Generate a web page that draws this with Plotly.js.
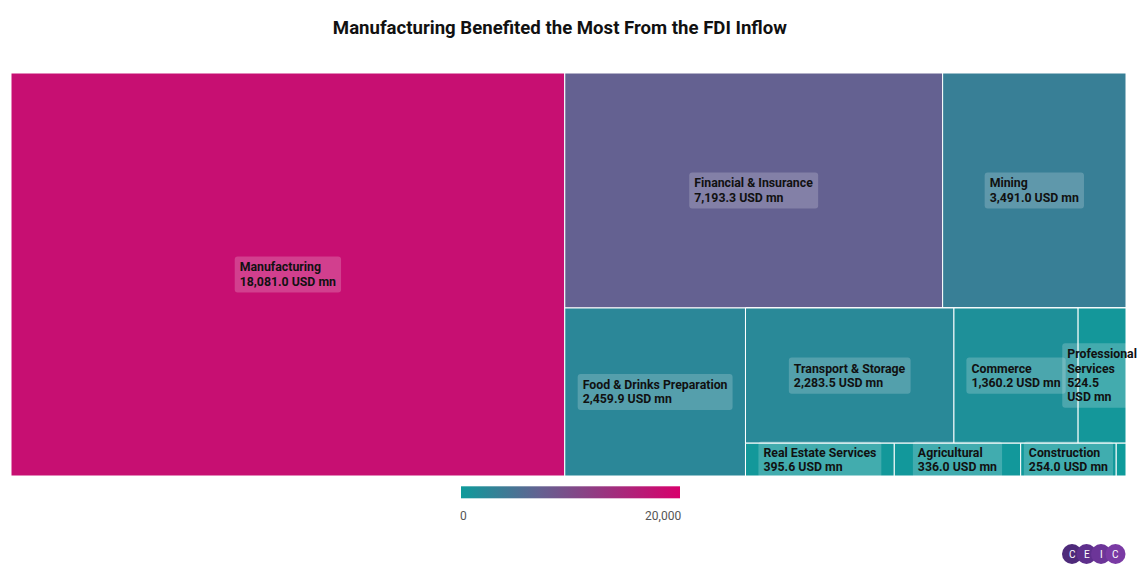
<!DOCTYPE html>
<html>
<head>
<meta charset="utf-8">
<script src="https://cdn.plot.ly/plotly-3.0.1.min.js"></script>
<style>
  html, body { margin: 0; padding: 0; background: #fff; }
  #chart { width: 1138px; height: 575px; }
</style>
</head>
<body>
<div id="chart"></div>
<script>
// Data (USD mn)
const sectors = [
  "Manufacturing", "Financial & Insurance", "Mining", "Food & Drinks Preparation",
  "Transport & Storage", "Commerce", "Professional Services", "Real Estate Services",
  "Agricultural", "Construction", "Others"
];
const labelsShown = [
  "Manufacturing", "Financial & Insurance", "Mining", "Food & Drinks Preparation",
  "Transport & Storage", "Commerce", "Professional<br>Services", "Real Estate Services",
  "Agricultural", "Construction", ""
];
const fdiValues = [18081.0, 7193.3, 3491.0, 2459.9, 2283.5, 1360.2, 524.5, 395.6, 336.0, 254.0, 26.0];
// layout groups (structure only, no values of their own)
const sectorGroup = ["root", "g2", "g2", "g3", "g5", "g5", "g5", "g6", "g6", "g6", "g6"];
const groupIds = ["root", "g1", "g2", "g3", "g4", "g5", "g6"];
const groupParents = ["", "root", "g1", "g1", "g3", "g4", "g4"];
const colorTicks = [0, 20000];
const colorTickText = ["\u00a0\u00a00", "20,000" + "\u00a0".repeat(11)];

const W = 1138, H = 575;
const px = v => v / W, py = v => 1 - v / H;

const texts = fdiValues.map((v, i) => {
  if (!labelsShown[i]) return "";
  const num = v.toLocaleString("en-US", {minimumFractionDigits: 1, maximumFractionDigits: 1});
  const valTxt = sectors[i] === "Professional Services" ? num + "<br>USD mn" : num + " USD mn";
  return "<b>" + labelsShown[i] + "<br>" + valTxt + "</b>";
});

const ids = [], labels = [], parents = [], values = [], colors = [], txt = [];
function addGroup(i) {
  ids.push(groupIds[i]); labels.push(" "); parents.push(groupParents[i]);
  values.push(0); colors.push(0); txt.push("");
}
function addSector(i) {
  ids.push("s" + i); labels.push(sectors[i]); parents.push(sectorGroup[i]);
  values.push(fdiValues[i]); colors.push(fdiValues[i]); txt.push(texts[i]);
}
addGroup(0);           // root
addSector(0);          // Manufacturing
addGroup(1);           // g1 (right part)
addGroup(2);           // g2 top row
addSector(1); addSector(2);
addGroup(3);           // g3 bottom
addSector(3);
addGroup(4);           // g4
addGroup(5);           // g5
addSector(4); addSector(5); addSector(6);
addGroup(6);           // g6
addSector(7); addSector(8); addSector(9); addSector(10);

const trace = {
  type: "treemap",
  ids: ids,
  labels: labels,
  parents: parents,
  values: values,
  branchvalues: "remainder",
  text: txt,
  texttemplate: "%{text}",
  textposition: "middle center",
  hoverinfo: "label+value",
  sort: false,
  tiling: { packing: "slice-dice", pad: 0 },
  pathbar: { visible: false },
  root: { color: "rgba(0,0,0,0)" },
  domain: { x: [px(11), px(1126)], y: [py(476), py(73)] },
  textfont: { family: "Roboto, sans-serif", size: 12.3, color: "#111111" },
  marker: {
    colors: colors,
    cmin: 0, cmax: 20000,
    colorscale: [[0, "#0e9b9b"], [0.36, "#646191"], [1, "#d8006c"]],
    line: { color: "#ffffff", width: 1 },
    pad: { t: 0, l: 0, r: 0, b: 0 },
    showscale: true,
    colorbar: {
      orientation: "h",
      x: px(570), xanchor: "center",
      y: py(505), yanchor: "middle",
      len: 239, lenmode: "pixels",
      thickness: 12,
      outlinewidth: 0,
      tickvals: colorTicks,
      ticktext: colorTickText,
      ticks: "outside", ticklen: 8, tickcolor: "rgba(0,0,0,0)",
      tickfont: { family: "Roboto, sans-serif", size: 12, color: "#555555" }
    }
  }
};

const logoX = [1072, 1086.5, 1101, 1115.5];
const logoCol = ["#4e2a7a", "#5e2f8c", "#6c3598", "#7a3aa4"];
const logoTxt = ["C", "E", "I", "C"];
const shapes = logoX.map((cx, i) => ({
  type: "circle", xref: "paper", yref: "paper",
  x0: px(cx - 10), x1: px(cx + 10), y0: py(564), y1: py(544),
  fillcolor: logoCol[i], line: { width: 0 }, layer: "above"
}));
const annotations = logoX.map((cx, i) => ({
  xref: "paper", yref: "paper", x: px(cx), y: py(554), showarrow: false,
  text: logoTxt[i], font: { family: "Roboto, sans-serif", size: 10, color: "#ffffff" },
  xanchor: "center", yanchor: "middle"
}));

const layout = {
  width: W, height: H,
  margin: { l: 0, r: 0, t: 0, b: 0 },
  paper_bgcolor: "#ffffff",
  font: { family: "Roboto, sans-serif" },
  title: {
    text: "<b>Manufacturing Benefited the Most From the FDI Inflow</b>",
    x: 0.492, xanchor: "center", y: py(27), yanchor: "middle",
    font: { family: "Roboto, sans-serif", size: 18.6, color: "#111111" }
  },
  uniformtext: { mode: "show", minsize: 12 },
  shapes: shapes,
  annotations: annotations
};

Plotly.newPlot("chart", [trace], layout, { displayModeBar: false, staticPlot: true }).then(() => {
  const ns = "http://www.w3.org/2000/svg";
  document.querySelectorAll(".treemaplayer text.slicetext").forEach(t => {
    if (!t.textContent.trim()) return;
    const bb = t.getBBox();
    const cy0 = bb.y + bb.height / 2;
    // left-align lines and tighten line spacing (dy is measured from a shared y)
    t.setAttribute("text-anchor", "start");
    const lines = t.querySelectorAll("tspan.line");
    lines.forEach((s, k) => {
      s.setAttribute("x", bb.x);
      s.setAttribute("dy", (k * 1.15) + "em");
    });
    const bb1 = t.getBBox();
    const shift = cy0 - (bb1.y + bb1.height / 2);
    let anyY = false;
    lines.forEach(s => {
      if (s.hasAttribute("y")) { anyY = true; s.setAttribute("y", parseFloat(s.getAttribute("y")) + shift); }
    });
    if (!anyY) t.setAttribute("y", parseFloat(t.getAttribute("y") || 0) + shift);
    const bb2 = t.getBBox();
    const r = document.createElementNS(ns, "rect");
    r.setAttribute("x", bb2.x - 5);
    r.setAttribute("y", bb2.y - 4);
    r.setAttribute("width", bb2.width + 10);
    r.setAttribute("height", bb2.height + 8);
    r.setAttribute("rx", 3);
    r.setAttribute("fill", "rgba(255,255,255,0.2)");
    const tr = t.getAttribute("transform");
    if (tr) r.setAttribute("transform", tr);
    t.parentNode.insertBefore(r, t);
  });
});
</script>
</body>
</html>
